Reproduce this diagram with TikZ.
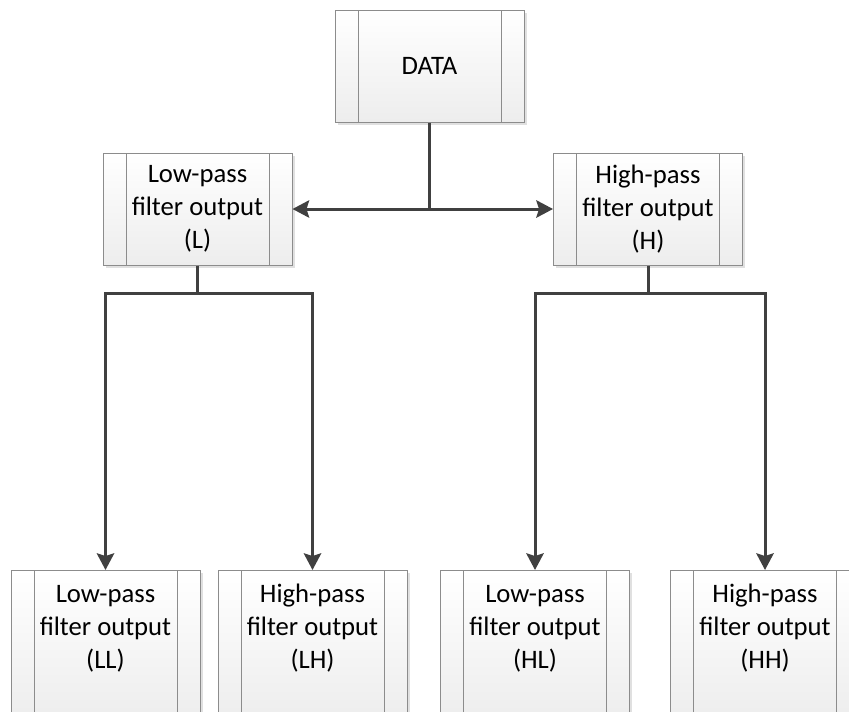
\documentclass[tikz,border=0pt]{standalone}
\usepackage{fontspec}
\setmainfont{Carlito}
\usetikzlibrary{arrows.meta,shadows,calc}
\definecolor{framegray}{HTML}{8C8C8C}
\definecolor{linegray}{HTML}{404040}
\definecolor{fillgray}{HTML}{EDEDED}
% text of the cut-off boxes of the bottom row, set from the top
\newcommand{\cuttext}[1]{\parbox[c][112.5pt][t]{120pt}{\centering\rule{0pt}{24pt}#1}}

\begin{document}
\begin{tikzpicture}[x=0.75pt,y=0.75pt,yscale=-1,xscale=1,
    procbox/.style={draw=framegray, line width=0.75pt, top color=white, bottom color=fillgray,
        minimum width=141.75pt, minimum height=84pt, inner sep=0pt, align=center,
        font=\fontsize{20}{24.75}\selectfont,
        drop shadow={shadow xshift=2pt, shadow yshift=-2pt, fill=black, opacity=0.12},
        path picture={
            \draw[framegray, line width=0.75pt] ([xshift=17.25pt]path picture bounding box.north west) -- ([xshift=17.25pt]path picture bounding box.south west);
            \draw[framegray, line width=0.75pt] ([xshift=-17.25pt]path picture bounding box.north east) -- ([xshift=-17.25pt]path picture bounding box.south east);
        }},
    flow/.style={draw=linegray, line width=2.25pt},
    arrow/.style={flow, -{Stealth[length=12.5pt,width=13pt,inset=2pt]}}]
        \clip (0,0) rectangle (849,711);
        % Boxes
        \node[procbox] (data) at (429.5,66) {DATA};
        \node[procbox] (lowL) at (197.5,209) {Low-pass\\filter output\\(L)};
        \node[procbox] (highH) at (648,209) {High-pass\\filter output\\(H)};
        \node[procbox, anchor=north] (LL) at (105.5,570) {\cuttext{Low-pass\\filter output\\(LL)}};
        \node[procbox, anchor=north] (LH) at (312.5,570) {\cuttext{High-pass\\filter output\\(LH)}};
        \node[procbox, anchor=north] (HL) at (535,570) {\cuttext{Low-pass\\filter output\\(HL)}};
        \node[procbox, anchor=north] (HH) at (765,570) {\cuttext{High-pass\\filter output\\(HH)}};
        % Split points
        \coordinate (split) at (data.south |- lowL.east);
        \coordinate (lsplit) at ($(lowL.south)+(0,28)$);
        \coordinate (hsplit) at ($(highH.south)+(0,28)$);
        % Connectors
        \draw[flow] (data.south) -- (split);
        \draw[arrow] (split) -- (lowL.east);
        \draw[arrow] (split) -- (highH.west);
        \draw[flow] (lowL.south) -- (lsplit);
        \draw[arrow] (lsplit) -| (LL.north);
        \draw[arrow] (lsplit) -| (LH.north);
        \draw[flow] (highH.south) -- (hsplit);
        \draw[arrow] (hsplit) -| (HL.north);
        \draw[arrow] (hsplit) -| (HH.north);
\end{tikzpicture}
\end{document}
